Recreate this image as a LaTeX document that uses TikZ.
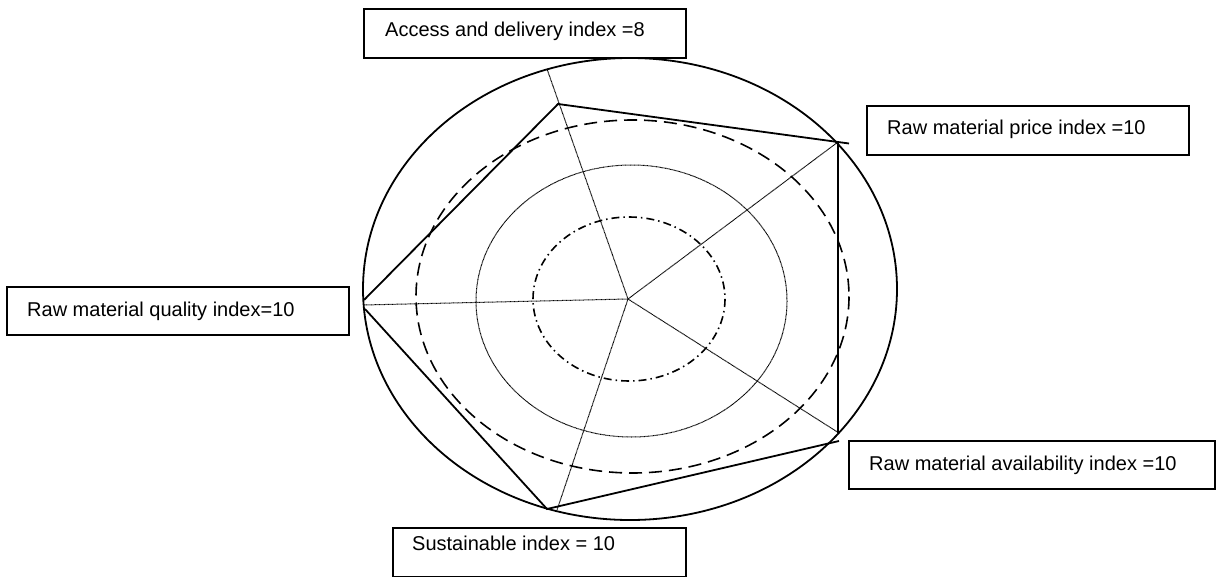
\documentclass[tikz,border=0pt]{standalone}
\usepackage{fontspec}
\setmainfont{Liberation Sans}
\begin{document}
\begin{tikzpicture}[x=1pt,y=-1pt,
  boxframe/.style={draw, line width=1.4pt, inner sep=0pt, anchor=center},
  labeltext/.style={anchor=base west, inner sep=0pt, font=\fontsize{20}{24}\selectfont},
  spoke/.style={line width=1pt, dash pattern=on 0.8pt off 0.5pt},
  poly/.style={line width=1.8pt, line join=miter}]
\useasboundingbox (0,0) rectangle (1217,577);
% ellipses
\draw[line width=1.8pt] (630,289) ellipse [x radius=267, y radius=231];
\draw[line width=1.6pt, dash pattern=on 13pt off 7pt] (632.5,296.5) ellipse [x radius=216.5, y radius=176.5];
\draw[line width=1pt, dash pattern=on 0.8pt off 0.5pt] (631.5,301) ellipse [x radius=155.5, y radius=136];
\draw[line width=1.6pt, dash pattern=on 8pt off 4pt on 1.5pt off 4pt] (629,299) ellipse [x radius=96, y radius=82];
% coordinates
\coordinate (O) at (628,299);
\coordinate (tipA) at (547,69);
\coordinate (tipP) at (838,142);
\coordinate (tipV) at (839,433);
\coordinate (tipS) at (557,510);
\coordinate (tipQ) at (363,305);
\coordinate (vA) at (558,104);
\coordinate (vP) at (838,142);
\coordinate (vPx) at (849,143.5);
\coordinate (vV) at (838,433);
\coordinate (vVb) at (839,441);
\coordinate (vS) at (547,509);
\coordinate (vQ) at (364,300);
\coordinate (vQb) at (365,309);
% spokes
\foreach \t in {tipA,tipP,tipV,tipS,tipQ} \draw[spoke] (O) -- (\t);
% polygon
\draw[poly] (vQ) -- (vA) -- (vPx);
\draw[poly] (vP) -- (vV);
\draw[poly] (vVb) -- (vS) -- (vQb);
% boxes
\node[boxframe, minimum width=322pt, minimum height=49pt] (bA) at (525,33.5) {};
\node[boxframe, minimum width=322pt, minimum height=49pt] (bP) at (1028,130.5) {};
\node[boxframe, minimum width=342pt, minimum height=48pt] (bQ) at (178,311) {};
\node[boxframe, minimum width=366pt, minimum height=48pt] (bV) at (1032,465) {};
\node[boxframe, minimum width=293pt, minimum height=49pt] (bS) at (539.5,552.5) {};
\node[labeltext] (tA) at (385,37) {Access and delivery index =8};
\node[labeltext] (tP) at (887,135) {Raw material price index =10};
\node[labeltext] (tQ) at (27,316) {Raw material quality index=10};
\node[labeltext] (tV) at (869,470) {Raw material availability index =10};
\node[labeltext] (tS) at (412,550) {Sustainable index = 10};
\end{tikzpicture}
\end{document}
